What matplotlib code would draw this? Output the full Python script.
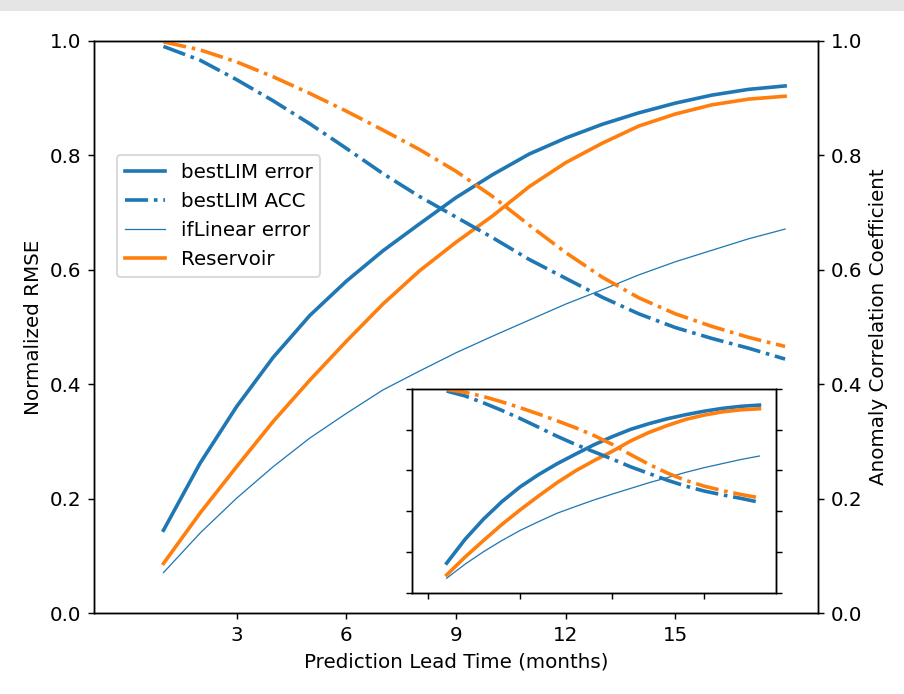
import matplotlib
matplotlib.use("Agg")
import matplotlib.pyplot as plt
from matplotlib.patches import Rectangle

lead = [1, 2, 3, 4, 5, 6, 7, 8, 9, 10, 11, 12, 13, 14, 15, 16, 17, 18]
bestlim_err = [0.145, 0.262, 0.361, 0.447, 0.520, 0.580, 0.633, 0.680, 0.726,
               0.766, 0.802, 0.830, 0.854, 0.874, 0.891, 0.905, 0.915, 0.921]
bestlim_acc = [0.990, 0.966, 0.932, 0.895, 0.855, 0.812, 0.768, 0.728, 0.692,
               0.656, 0.618, 0.585, 0.552, 0.523, 0.499, 0.480, 0.463, 0.444]
iflinear_err = [0.071, 0.140, 0.201, 0.256, 0.306, 0.349, 0.390, 0.423, 0.455,
                0.484, 0.512, 0.540, 0.565, 0.591, 0.614, 0.634, 0.654, 0.671]
res_err = [0.087, 0.175, 0.256, 0.335, 0.407, 0.475, 0.540, 0.598, 0.648,
           0.694, 0.745, 0.787, 0.821, 0.851, 0.872, 0.888, 0.898, 0.903]
res_acc = [0.998, 0.984, 0.963, 0.937, 0.908, 0.877, 0.844, 0.810, 0.772,
           0.728, 0.678, 0.630, 0.587, 0.551, 0.523, 0.501, 0.482, 0.466]
main_xticks = [3, 6, 9, 12, 15]
inset_xticks = [0, 5, 10, 15]
yticks = [0.0, 0.2, 0.4, 0.6, 0.8, 1.0]

BLUE = "#1f77b4"
ORANGE = "#ff7f0e"
W, H = 904, 694
DPI = 130
plt.rcParams["font.size"] = 11
fig = plt.figure(figsize=(W / DPI, H / DPI), dpi=DPI)

# top grey band (screenshot frame)
fig.patches.append(Rectangle((0, 1 - 11 / H), 1, 11 / H, transform=fig.transFigure,
                             facecolor="#e5e5e5", edgecolor="none", zorder=0))

def fx(px):
    return px / W

def fy(py):
    return 1 - py / H

L, R, T, B = 94, 818, 40.7, 613.3
ax = fig.add_axes([fx(L), fy(B), fx(R) - fx(L), fy(T) - fy(B)])
ax2 = ax.twinx()

l1, = ax.plot(lead, bestlim_err, color=BLUE, lw=2, label="bestLIM error")
l3, = ax.plot(lead, iflinear_err, color=BLUE, lw=0.7, label="ifLinear error")
l4, = ax.plot(lead, res_err, color=ORANGE, lw=2, label="Reservoir")
l2, = ax2.plot(lead, bestlim_acc, color=BLUE, lw=2, ls="-.", label="bestLIM ACC")
ax2.plot(lead, res_acc, color=ORANGE, lw=2, ls="-.")

for a in (ax, ax2):
    a.set_xlim(-0.9, 18.9)
    a.set_ylim(0, 1)
    a.set_yticks(yticks)
ax.set_xticks(main_xticks)
ax.set_xlabel("Prediction Lead Time (months)")
ax.set_ylabel("Normalized RMSE")
ax2.set_ylabel("Anomaly Correlation Coefficient")

ax.legend(handles=[l1, l2, l3, l4], loc="upper left", borderaxespad=0,
          bbox_to_anchor=((117 - L) / (R - L), (B - 155) / (B - T)))

# inset
iL, iR, iT, iB = 411.7, 776, 389, 592.7
axi = fig.add_axes([fx(iL), fy(iB), fx(iR) - fx(iL), fy(iT) - fy(iB)])
axi2 = axi.twinx()
axi.plot(lead, bestlim_err, color=BLUE, lw=2)
axi.plot(lead, iflinear_err, color=BLUE, lw=0.7)
axi.plot(lead, res_err, color=ORANGE, lw=2)
axi2.plot(lead, bestlim_acc, color=BLUE, lw=2, ls="-.")
axi2.plot(lead, res_acc, color=ORANGE, lw=2, ls="-.")
for a in (axi, axi2):
    a.set_xlim(-0.9, 18.9)
    a.set_ylim(0, 1)
    a.set_yticks(yticks)
    a.set_yticklabels([])
axi.set_xticks(inset_xticks)
axi.set_xticklabels([])

fig.savefig("out.png", dpi=DPI)
